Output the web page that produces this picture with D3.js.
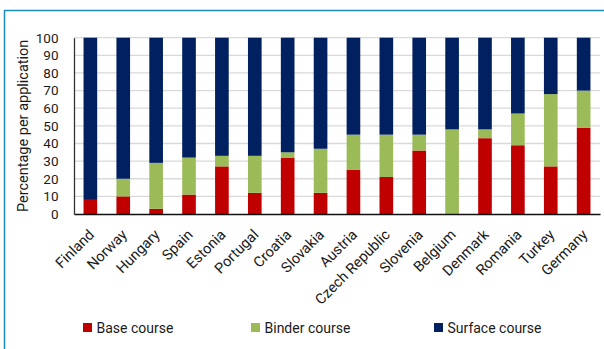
<!DOCTYPE html>
<html>
<head>
<meta charset="utf-8">
<script src="https://cdn.jsdelivr.net/npm/d3@7"></script>
<style>
  html, body { margin: 0; padding: 0; background: #fff; }
  svg { display: block; font-family: Roboto, "DejaVu Sans", sans-serif; }
</style>
</head>
<body>
<svg id="chart" width="604" height="349"></svg>
<script>
// Share of each pavement layer per country (percent)
const countries = ["Finland", "Norway", "Hungary", "Spain", "Estonia", "Portugal", "Croatia", "Slovakia",
  "Austria", "Czech Republic", "Slovenia", "Belgium", "Denmark", "Romania", "Turkey", "Germany"];
const baseCourse   = [8, 10, 3, 11, 27, 12, 32, 12, 25, 21, 36, 0, 43, 39, 27, 49];
const binderCourse = [0, 10, 26, 21, 6, 21, 3, 25, 20, 24, 9, 48, 5, 18, 41, 21];
const surfaceCourse = countries.map((c, i) => 100 - baseCourse[i] - binderCourse[i]);
const seriesNames = ["Base course", "Binder course", "Surface course"];
const seriesColors = ["#c00000", "#9bbb59", "#002060"];
const yTicks = [0, 10, 20, 30, 40, 50, 60, 70, 80, 90, 100];

const svg = d3.select("#chart");

// Outer frame (top and left edges)
svg.append("line").attr("x1", 4.5).attr("x2", 604).attr("y1", 10.5).attr("y2", 10.5)
  .attr("stroke", "#1a8cc4").attr("stroke-width", 1.5);
svg.append("line").attr("x1", 4.5).attr("x2", 4.5).attr("y1", 10).attr("y2", 349)
  .attr("stroke", "#1a8cc4").attr("stroke-width", 1.5);

const x = d3.scaleBand().domain(countries).range([74, 600]).paddingInner(0.585).paddingOuter(0.29);
const y = d3.scaleLinear().domain([0, 100]).range([214, 37.7]);

// Gridlines
svg.append("g").selectAll("line").data(yTicks.filter(t => t > 0)).join("line")
  .attr("x1", 74).attr("x2", 600)
  .attr("y1", d => y(d)).attr("y2", d => y(d))
  .attr("stroke", "#d9d9d9").attr("stroke-width", 1.3);

// Stacked bars
const rows = countries.map((c, i) => ({
  country: c, "Base course": baseCourse[i], "Binder course": binderCourse[i], "Surface course": surfaceCourse[i]
}));
const stacked = d3.stack().keys(seriesNames)(rows);
svg.append("g").selectAll("g").data(stacked).join("g")
  .attr("fill", (d, i) => seriesColors[i])
  .selectAll("rect").data(d => d).join("rect")
  .attr("x", d => x(d.data.country))
  .attr("width", x.bandwidth())
  .attr("y", d => y(d[1]))
  .attr("height", d => y(d[0]) - y(d[1]));

// Y axis
const yAxis = svg.append("g").attr("transform", "translate(74,0)")
  .call(d3.axisLeft(y).tickValues(yTicks).tickSize(0).tickPadding(15.5));
yAxis.select(".domain").attr("stroke", "#333").attr("stroke-width", 1.3);
yAxis.selectAll("text").attr("font-size", 13.5).attr("fill", "#1a1a1a")
  .attr("font-family", "Roboto, sans-serif");

// X axis
const xAxis = svg.append("g").attr("transform", "translate(0,214)")
  .call(d3.axisBottom(x).tickSize(0).tickSizeOuter(0));
xAxis.select(".domain").attr("stroke", "#111").attr("stroke-width", 1.5);
xAxis.selectAll("text")
  .attr("font-size", 14.5).attr("fill", "#1a1a1a").attr("font-family", "Roboto, sans-serif")
  .attr("text-anchor", "end")
  .attr("transform", "translate(1,18) rotate(-45)")
  .attr("dy", "0.35em").attr("y", 0).attr("x", 0);

// Y axis title
svg.append("text")
  .attr("transform", `translate(27.5,${(y(0) + y(100)) / 2}) rotate(-90)`)
  .attr("text-anchor", "middle")
  .attr("font-size", 14.5).attr("fill", "#1a1a1a")
  .text("Percentage per application");

// Legend
const legendX = [83, 251, 434];
const legend = svg.append("g").selectAll("g").data(seriesNames).join("g")
  .attr("transform", (d, i) => `translate(${legendX[i]},323)`);
legend.append("rect").attr("width", 9).attr("height", 9).attr("fill", (d, i) => seriesColors[i]);
legend.append("text").attr("x", 13.5).attr("y", 9.5)
  .attr("font-size", 14).attr("fill", "#1a1a1a").text(d => d);
</script>
</body>
</html>
